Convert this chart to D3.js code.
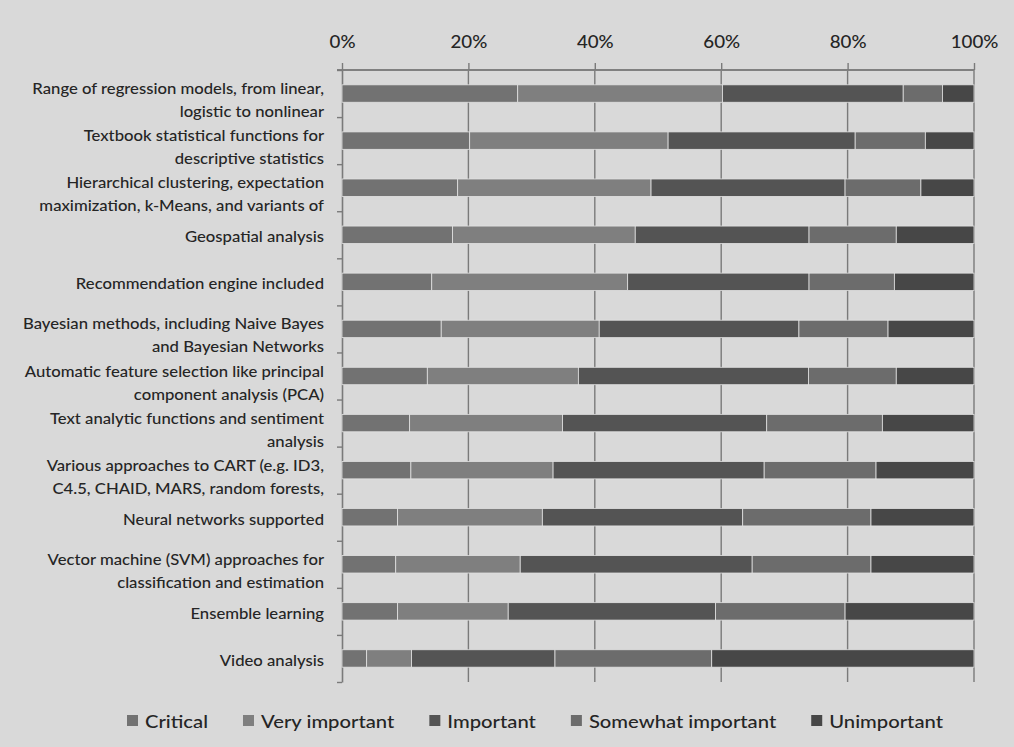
<!DOCTYPE html>
<html>
<head>
<meta charset="utf-8">
<script src="https://cdn.jsdelivr.net/npm/d3@7"></script>
<style>
  html, body { margin: 0; padding: 0; background: #d9d9d9; }
  svg { display: block; }
  text { font-family: Lato, "Open Sans", sans-serif; font-weight: 500; fill: #252525; }
</style>
</head>
<body>
<svg id="chart" width="1014" height="747"></svg>
<script>
// Capabilities survey: share of answers per importance level (percent)
const categories = [
  "Range of regression models, from linear,\nlogistic to nonlinear",
  "Textbook statistical functions for\ndescriptive statistics",
  "Hierarchical clustering, expectation\nmaximization, k-Means, and variants of",
  "Geospatial analysis",
  "Recommendation engine included",
  "Bayesian methods, including Naive Bayes\nand Bayesian Networks",
  "Automatic feature selection like principal\ncomponent analysis (PCA)",
  "Text analytic functions and sentiment\nanalysis",
  "Various approaches to CART (e.g. ID3,\nC4.5, CHAID, MARS, random forests,",
  "Neural networks supported",
  "Vector machine (SVM) approaches for\nclassification and estimation",
  "Ensemble learning",
  "Video analysis"
];

const seriesNames = ["Critical", "Very important", "Important", "Somewhat important", "Unimportant"];

const critical          = [27.8, 20.2, 18.3, 17.5, 14.2, 15.7, 13.5, 10.7, 10.9,  8.8,  8.5,  8.8,  3.9];
const veryImportant     = [32.4, 31.4, 30.6, 28.9, 31.0, 25.0, 23.9, 24.2, 22.5, 22.9, 19.7, 17.5,  7.1];
const important         = [28.6, 29.6, 30.7, 27.5, 28.7, 31.6, 36.4, 32.3, 33.4, 31.7, 36.7, 32.8, 22.7];
const somewhatImportant = [ 6.2, 11.1, 12.0, 13.8, 13.5, 14.1, 13.9, 18.3, 17.7, 20.3, 18.8, 20.5, 24.8];
const unimportant       = [ 5.0,  7.7,  8.4, 12.3, 12.6, 13.6, 12.3, 14.5, 15.5, 16.3, 16.3, 20.4, 41.5];

const tickValues = [0, 0.2, 0.4, 0.6, 0.8, 1.0];

const seriesColors = ["#727272", "#7f7f7f", "#545454", "#6c6c6c", "#474747"];

// ---- layout ----
const svg = d3.select("#chart");
const plotLeft = 342, plotRight = 974, plotTop = 70, plotBottom = 682;
const stretch = 1.15;   // horizontal stretch of the lettering

const rows = categories.map((c, i) => ({
  label: c,
  "Critical": critical[i],
  "Very important": veryImportant[i],
  "Important": important[i],
  "Somewhat important": somewhatImportant[i],
  "Unimportant": unimportant[i]
}));

const stacked = d3.stack().keys(seriesNames).offset(d3.stackOffsetExpand)(rows);

const x = d3.scaleLinear().domain([0, 1]).range([plotLeft, plotRight]);
const y = d3.scaleBand().domain(d3.range(categories.length))
  .range([plotTop, plotBottom]).paddingInner(0.63).paddingOuter(0.315);
const color = d3.scaleOrdinal().domain(seriesNames).range(seriesColors);

// vertical gridlines
svg.append("g").selectAll("line")
  .data(tickValues.filter(t => t > 0))
  .join("line")
  .attr("x1", d => x(d)).attr("x2", d => x(d))
  .attr("y1", plotTop).attr("y2", plotBottom)
  .attr("stroke", "#7a7a7a").attr("stroke-width", 1.4);

// top axis
const xAxis = svg.append("g")
  .attr("transform", `translate(0,${plotTop})`)
  .call(d3.axisTop(x).tickValues(tickValues).tickFormat(d3.format(".0%")).tickSize(7).tickSizeOuter(0));
xAxis.select(".domain").attr("stroke", "#808080").attr("stroke-width", 1.8)
  .attr("d", `M${plotLeft - 5},0H${plotRight}`);
xAxis.selectAll(".tick line").attr("stroke", "#7a7a7a").attr("stroke-width", 1.4);
xAxis.selectAll(".tick text").each(function () {
  d3.select(this)
    .attr("y", null).attr("dy", null)
    .attr("transform", `translate(0,-22.5) scale(${stretch},1)`)
    .style("font-size", "16.3px")
    .style("font-family", "Lato, 'Open Sans', sans-serif")
    .style("font-weight", 500)
    .attr("fill", "#252525");
});

// left axis with ticks on the category boundaries
const boundary = d3.scaleLinear().domain([0, categories.length]).range([plotTop, plotBottom]);
const yAxis = svg.append("g")
  .attr("transform", `translate(${plotLeft},0)`)
  .call(d3.axisLeft(boundary).tickValues(d3.range(categories.length + 1)).tickFormat("").tickSize(5).tickSizeOuter(0));
yAxis.select(".domain").attr("stroke", "#7a7a7a").attr("stroke-width", 1.6);
yAxis.selectAll(".tick line").attr("stroke", "#7a7a7a").attr("stroke-width", 1.4);

// stacked bars
svg.append("g").selectAll("g")
  .data(stacked)
  .join("g")
  .attr("fill", d => color(d.key))
  .selectAll("rect")
  .data(d => d.map((v, i) => ({ v, i })))
  .join("rect")
  .attr("x", d => x(d.v[0]))
  .attr("width", d => x(d.v[1]) - x(d.v[0]))
  .attr("y", d => y(d.i))
  .attr("height", y.bandwidth())
  .attr("stroke", "#e2e2e2")
  .attr("stroke-width", 0.8);

// category labels, wrapped lines centred on each bar
const lineGap = 23;
const labels = svg.append("g");
categories.forEach((c, i) => {
  const lines = c.split("\n");
  const cy = y(i) + y.bandwidth() / 2;
  lines.forEach((ln, k) => {
    const by = cy + 7.5 + (k - (lines.length - 1) / 2) * lineGap + (lines.length > 1 ? 4.5 : 0);
    labels.append("text")
      .attr("transform", `translate(324,${by}) scale(${stretch},1)`)
      .attr("text-anchor", "end")
      .style("font-size", "14.5px")
      .text(ln);
  });
});

// legend
const legend = svg.append("g");
let lx = 127;
seriesNames.forEach((name, i) => {
  legend.append("rect")
    .attr("x", lx).attr("y", 715).attr("width", 11).attr("height", 11)
    .attr("fill", seriesColors[i]);
  const t = legend.append("text")
    .attr("transform", `translate(${lx + 18},728) scale(${stretch},1)`)
    .style("font-size", "17.6px")
    .text(name);
  const w = t.node().getComputedTextLength() * stretch;
  lx = lx + 18 + w + 35;
});
</script>
</body>
</html>
